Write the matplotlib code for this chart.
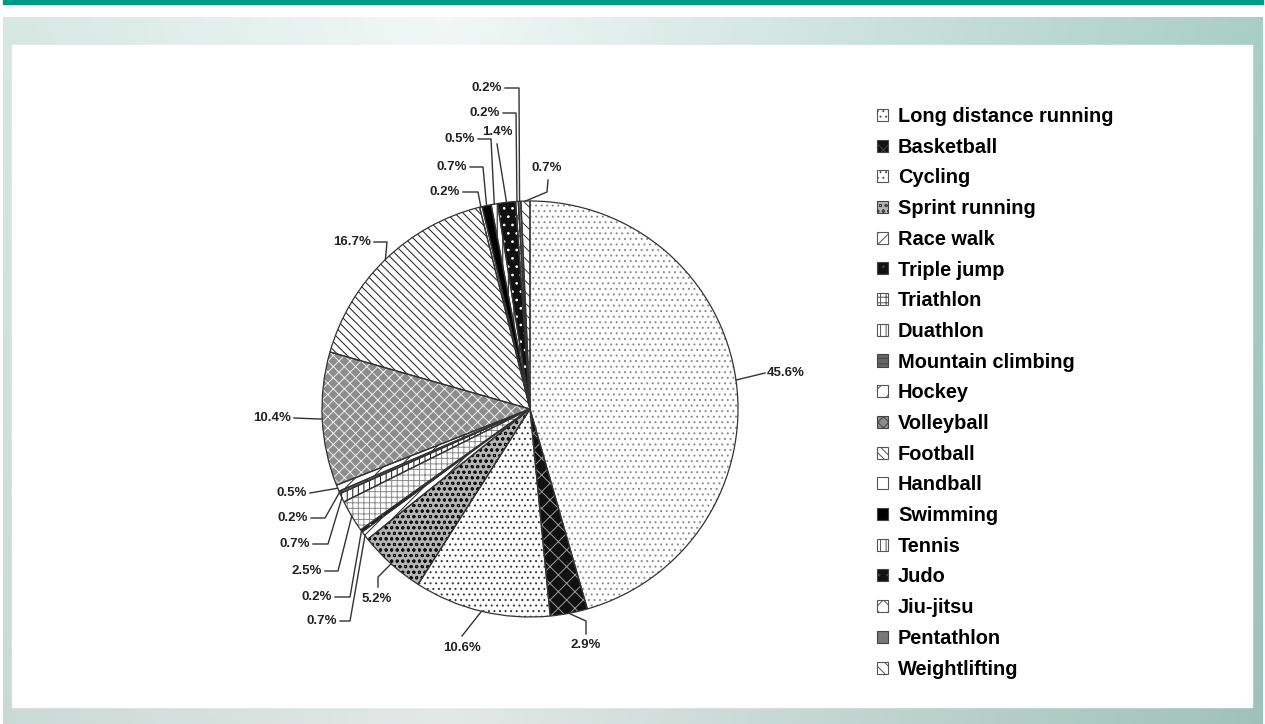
import numpy as np
import matplotlib
matplotlib.use("Agg")
import matplotlib.pyplot as plt
from matplotlib.patches import Patch, Rectangle

sports = ["Long distance running", "Basketball", "Cycling", "Sprint running", "Race walk",
          "Triple jump", "Triathlon", "Duathlon", "Mountain climbing", "Hockey",
          "Volleyball", "Football", "Handball", "Swimming", "Tennis", "Judo",
          "Jiu-jitsu", "Pentathlon", "Weightlifting"]
shares = [45.6, 2.9, 10.6, 5.2, 0.7, 0.2, 2.5, 0.7, 0.2, 0.5,
          10.4, 16.7, 0.2, 0.7, 0.5, 1.4, 0.2, 0.2, 0.7]

# fill style per slice: face, hatch, hatch colour
faces = ["white", "#111111", "white", "#b4b4b4", "white", "#111111", "white", "white", "#666666", "white",
         "#8c8c8c", "white", "white", "#000000", "white", "#111111", "white", "#777777", "white"]
hatches = ["...", "xx", "...", "ooo", "///", "..", "+++", "|||", "---", "//",
           "xxx", "\\\\\\\\", "", "", "|||", "..", "xx", "", "\\\\\\"]
hcols = ["#8a8a8a", "#9a9a9a", "#333333", "#111111", "#222222", "white", "#8a8a8a", "#111111", "#333333", "#222222",
         "#eeeeee", "#1a1a1a", "white", "#000000", "#111111", "white", "#555555", "#777777", "#333333"]

# label layout in pixels: text x, text y, alignment, leader path (text side -> elbow)
label_pos = [(767, 373, "left"), (586, 645, "center"), (462, 648, "center"), (377, 599, "center"),
             (337, 621, "right"), (332, 597, "right"), (322, 571, "right"), (310, 544, "right"),
             (308, 518, "right"), (307, 493, "right"), (291, 418, "right"), (371, 242, "right"),
             (460, 192, "right"), (467, 167, "right"), (475, 139, "right"), (497, 132, "center"),
             (500, 113, "right"), (502, 88, "right"), (547, 168, "center")]
leaders = [[(765, 373)], [(586, 634), (586, 621)], [(462, 636)], [(378, 587), (378, 577)],
           [(340, 621), (350, 621)], [(335, 597), (350, 597)], [(325, 571), (338, 571)],
           [(313, 544), (328, 544)], [(311, 518), (325, 518)], [(310, 493)], [(294, 418)],
           [(374, 242), (387, 242)], [(463, 192), (478, 192)], [(470, 167), (483, 167)],
           [(478, 139), (491, 139)], [(497, 144)], [(503, 113), (516, 113)],
           [(505, 88), (519, 88)], [(548, 180), (547, 192)]]

W, Hh = 1265, 724
CX, CY, R = 530, 409, 208
HALF = 330

plt.rcParams["hatch.linewidth"] = 0.7
fig = plt.figure(figsize=(W / 100, Hh / 100), dpi=100)
fig.patch.set_facecolor("white")

# background: teal rule, gradient band, white panel
bg = fig.add_axes([0, 0, 1, 1])
bg.set_xlim(0, W)
bg.set_ylim(Hh, 0)
bg.axis("off")
xs = np.linspace(0, 1, 300)
stops_x = [0, 0.35, 1]
stops_c = np.array([[0.84, 0.91, 0.89], [0.95, 0.97, 0.965], [0.66, 0.81, 0.77]])
row = np.stack([np.interp(xs, stops_x, stops_c[:, k]) for k in range(3)], axis=-1)
ys = np.linspace(0, 1, 100)[:, None, None]
grad = row[None, :, :] * (1 - 0.06 * ys)
bg.imshow(grad, extent=[3, 1263, 724, 17], aspect="auto", zorder=0)
bg.add_patch(Rectangle((3, 0), 1260, 3.5, color="#009b82", zorder=1))
bg.add_patch(Rectangle((12, 45), 1240, 662, color="white", zorder=1))

ax = fig.add_axes([(CX - HALF) / W, (Hh - CY - HALF) / Hh, 2 * HALF / W, 2 * HALF / Hh])

wedges, _ = ax.pie(shares, startangle=90, counterclock=False,
                   wedgeprops=dict(linewidth=0))
for w, fc, h, hc in zip(wedges, faces, hatches, hcols):
    w.set_facecolor(fc)
    w.set_edgecolor(hc)
    w.set_hatch(h)
# outlines on top
ax.pie(shares, startangle=90, counterclock=False,
       wedgeprops=dict(fill=False, edgecolor="#333333", linewidth=0.9))
ax.set_xlim(-HALF / R, HALF / R)
ax.set_ylim(-HALF / R, HALF / R)
ax.axis("off")


def to_data(p):
    return (p[0] - CX) / R, (CY - p[1]) / R


for w, val, (tx, ty, ha), path in zip(wedges, shares, label_pos, leaders):
    ang = np.deg2rad((w.theta1 + w.theta2) / 2)
    edge = (np.cos(ang), np.sin(ang))
    pts = [to_data(p) for p in path] + [edge]
    ax.plot([p[0] for p in pts], [p[1] for p in pts], color="#333333", lw=1.0, clip_on=False)
    x, y = to_data((tx, ty))
    ax.text(x, y, f"{val:.1f}%", ha=ha, va="center", fontsize=9.5, fontweight="bold",
            family="Liberation Sans", color="#222222")

handles = [Patch(facecolor=fc, hatch=h, edgecolor=hc if fc == "white" else "#444444", linewidth=0.8)
           for fc, h, hc in zip(faces, hatches, hcols)]
for hd, fc in zip(handles, faces):
    if fc == "white":
        hd.set_edgecolor("#555555")
fig.legend(handles, sports, loc="upper left", bbox_to_anchor=(877 / W, 1 - 107 / Hh),
           frameon=False, handlelength=0.55, handleheight=0.55, handletextpad=0.5,
           labelspacing=0.585, borderpad=0, borderaxespad=0,
           prop=dict(family="Liberation Sans", weight="bold", size=14.4))

fig.savefig("out.png", dpi=100)
